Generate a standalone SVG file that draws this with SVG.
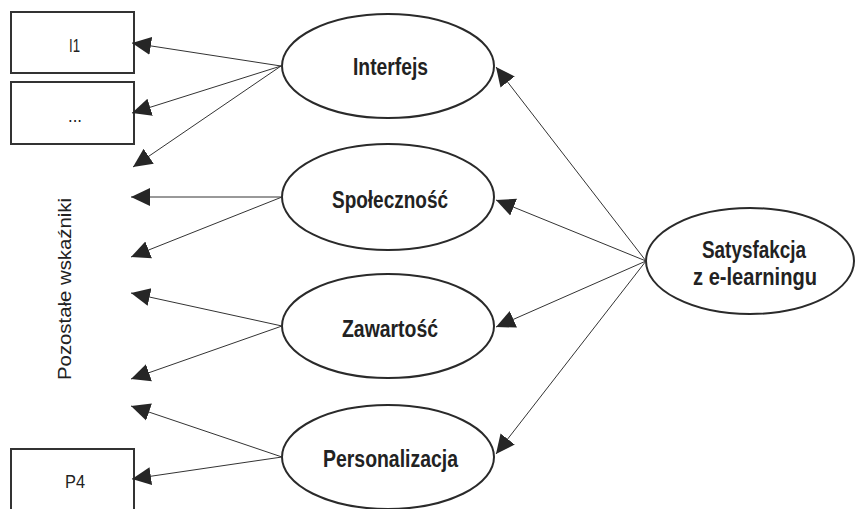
<svg xmlns="http://www.w3.org/2000/svg" width="855" height="509" viewBox="0 0 855 509">
  <style>
    .box { fill: #ffffff; stroke: #333333; stroke-width: 2; }
    .latent { fill: #ffffff; stroke: #2a2a2a; stroke-width: 2; }
    .label { font-family: "Liberation Sans", Arial, sans-serif; font-size: 18px; fill: #222222; }
    .title { font-family: "Liberation Sans", Arial, sans-serif; font-size: 23px; font-weight: bold; fill: #222222; text-anchor: middle; }
    .edge { stroke: #333333; stroke-width: 1; fill: none; marker-end: url(#ah); }
  </style>
  <defs>
    <marker id="ah" viewBox="0 -10 19 20" refX="19" refY="0" markerWidth="19" markerHeight="20" markerUnits="userSpaceOnUse" orient="auto">
      <path d="M0,-9 L19,0 L0,9 z" fill="#262626"/>
    </marker>
  </defs>
  <rect width="855" height="509" fill="#ffffff"/>

  <!-- indicator boxes -->
  <g id="I1">
    <rect class="box" x="11" y="12" width="123" height="61"/>
    <text class="label" x="69" y="52" textLength="11" lengthAdjust="spacingAndGlyphs">I1</text>
  </g>
  <g id="Idots">
    <rect class="box" x="11" y="82" width="123" height="62"/>
    <text class="label" x="68" y="122" textLength="14" lengthAdjust="spacingAndGlyphs">...</text>
  </g>
  <g id="P4">
    <rect class="box" x="11" y="449" width="123" height="66"/>
    <text class="label" x="65" y="488" textLength="20" lengthAdjust="spacingAndGlyphs">P4</text>
  </g>
  <g id="other-indicators">
    <text class="label" font-size="22" transform="translate(71,289) rotate(-90)" text-anchor="middle" textLength="182" lengthAdjust="spacingAndGlyphs">Pozostałe wskaźniki</text>
  </g>

  <!-- latent factors -->
  <g id="Interfejs">
    <ellipse class="latent" cx="388" cy="66" rx="106" ry="52"/>
    <text class="title" x="390.5" y="75" textLength="75" lengthAdjust="spacingAndGlyphs">Interfejs</text>
  </g>
  <g id="Spolecznosc">
    <ellipse class="latent" cx="388" cy="197" rx="106" ry="53"/>
    <text class="title" x="390" y="208" textLength="116" lengthAdjust="spacingAndGlyphs">Społeczność</text>
  </g>
  <g id="Zawartosc">
    <ellipse class="latent" cx="388" cy="326" rx="106" ry="52"/>
    <text class="title" x="390" y="337" textLength="96" lengthAdjust="spacingAndGlyphs">Zawartość</text>
  </g>
  <g id="Personalizacja">
    <ellipse class="latent" cx="388" cy="457" rx="106" ry="52"/>
    <text class="title" x="390.5" y="467" textLength="135" lengthAdjust="spacingAndGlyphs">Personalizacja</text>
  </g>
  <g id="Satysfakcja">
    <ellipse class="latent" cx="750" cy="261" rx="104" ry="53"/>
    <text class="title" x="754" y="258" textLength="104" lengthAdjust="spacingAndGlyphs">Satysfakcja</text>
    <text class="title" x="755" y="285" textLength="124" lengthAdjust="spacingAndGlyphs">z e-learningu</text>
  </g>

  <!-- connectors -->
  <g id="connectors">
    <line class="edge" x1="281" y1="66" x2="132" y2="43"/>
    <line class="edge" x1="281" y1="66" x2="132" y2="113"/>
    <line class="edge" x1="281" y1="66" x2="133" y2="167"/>
    <line class="edge" x1="282" y1="197" x2="131" y2="197" stroke-width="2"/>
    <line class="edge" x1="282" y1="197" x2="131" y2="257"/>
    <line class="edge" x1="282" y1="326" x2="131" y2="293"/>
    <line class="edge" x1="282" y1="326" x2="131" y2="379"/>
    <line class="edge" x1="282" y1="457" x2="131" y2="406"/>
    <line class="edge" x1="282" y1="457" x2="132" y2="479"/>
    <line class="edge" x1="646" y1="261" x2="496" y2="67"/>
    <line class="edge" x1="646" y1="261" x2="496" y2="200"/>
    <line class="edge" x1="646" y1="261" x2="496" y2="327"/>
    <line class="edge" x1="646" y1="261" x2="496" y2="454"/>
  </g>
</svg>
